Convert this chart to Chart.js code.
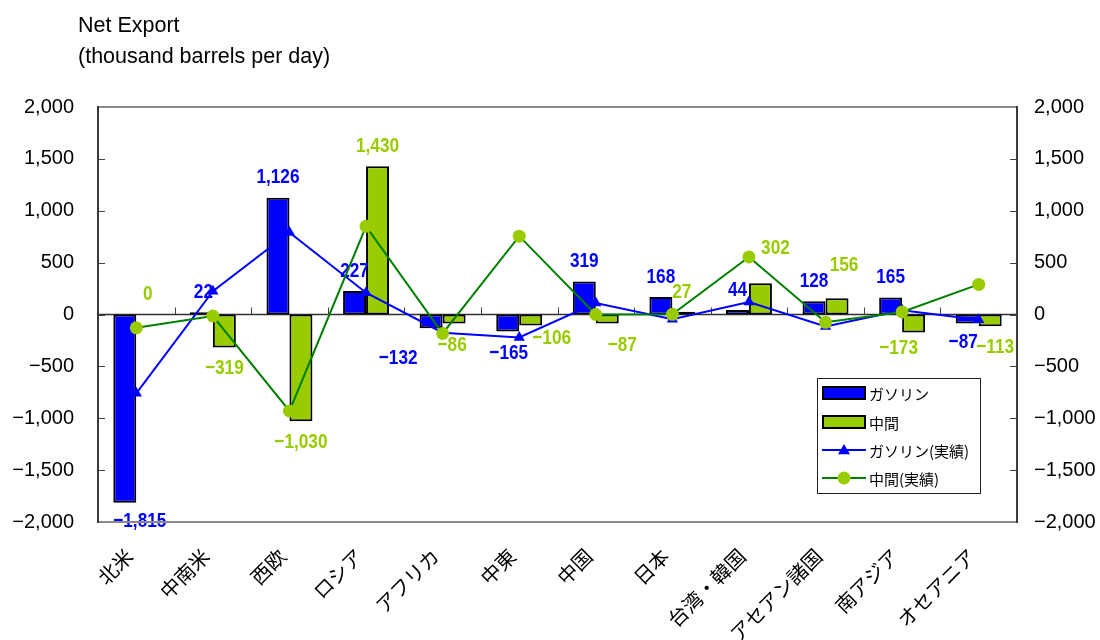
<!DOCTYPE html>
<html>
<head>
<meta charset="utf-8">
<script src="https://cdn.jsdelivr.net/npm/chart.js@4/dist/chart.umd.min.js"></script>
<style>
  html, body { margin: 0; padding: 0; background: #ffffff; }
  #wrap { width: 1100px; height: 640px; position: relative; }
</style>
</head>
<body>
<div id="wrap"><canvas id="c" width="1100" height="640"></canvas></div>
<script>
// Regions along the category axis
const regions = ['北米', '中南米', '西欧', 'ロシア', 'アフリカ', '中東', '中国', '日本', '台湾・韓国', 'アセアン諸国', '南アジア', 'オセアニア'];

// Net export, thousand barrels per day (bars)
const gasoline = [-1815, 22, 1126, 227, -132, -165, 319, 168, 44, 128, 165, -87];
const middleDistillate = [0, -319, -1030, 1430, -86, -106, -87, 27, 302, 156, -173, -113];

// Net export, actual results (lines)
const gasolineActual = [-760, 225, 790, 210, -175, -222, 110, -45, 120, -115, 40, -50];
const middleActual = [-128, -15, -930, 850, -183, 755, 0, 2, 555, -75, 25, 290];

// Value axis ticks
const axisMin = -2000;
const axisMax = 2000;
const axisStep = 500;

// Series names
const seriesNames = ['ガソリン', '中間', 'ガソリン(実績)', '中間(実績)'];
const titleLines = ['Net Export', '(thousand barrels per day)'];

// Small hand adjustments for value labels that would otherwise collide
const gasolineLabelShift = [[15, -3], [2, 0], [0, 0], [0, 0], [-33, 9], [1, 1], [0, 0], [0, 0], [0, 0], [0, 0], [0, 0], [-4, -2]];
const middleLabelShift = [[0, 0], [0, 0], [0, 0], [0, 0], [-2, 1], [21, -8], [15, 1], [-2, 1], [15, -15], [7, -13], [-15, -5], [5, 0]];

const BLUE = '#0000ff';
const YGREEN = '#99cc00';
const DGREEN = '#008000';
const SANS = '"Liberation Sans", Arial, sans-serif';
const JP = '"Noto Sans CJK JP", "Noto Sans", sans-serif';

function fmt(n) {
  const s = Math.abs(n).toLocaleString('en-US');
  return n < 0 ? '\u2212' + s : s;
}

// Frame, zero line, inward tick marks, title and legend
const framePlugin = {
  id: 'frame',
  beforeDatasetsDraw(chart) {
    const { ctx, chartArea: a, scales } = chart;
    const y = scales.y, x = scales.x;
    const y0 = y.getPixelForValue(0);
    ctx.save();
    ctx.strokeStyle = '#303030';
    ctx.lineWidth = 1.5;
    ctx.beginPath();
    ctx.moveTo(a.left, y0);
    ctx.lineTo(a.right, y0);
    ctx.stroke();
    // category separators rising from the zero line
    ctx.lineWidth = 1;
    ctx.strokeStyle = '#404040';
    const n = regions.length;
    for (let i = 1; i < n; i++) {
      const px = (x.getPixelForValue(i - 1) + x.getPixelForValue(i)) / 2;
      ctx.beginPath();
      ctx.moveTo(Math.round(px) + 0.5, y0);
      ctx.lineTo(Math.round(px) + 0.5, y0 - 7);
      ctx.stroke();
    }
    // inward tick marks on both value axes
    for (let v = axisMin; v <= axisMax; v += axisStep) {
      const py = Math.round(y.getPixelForValue(v)) + 0.5;
      ctx.beginPath();
      ctx.moveTo(a.left, py); ctx.lineTo(a.left + 7, py);
      ctx.moveTo(a.right, py); ctx.lineTo(a.right - 7, py);
      ctx.stroke();
    }
    ctx.restore();
  },
  afterDraw(chart) {
    const { ctx, chartArea: a } = chart;
    ctx.save();
    ctx.lineWidth = 2;
    ctx.strokeStyle = '#8a8a8a';
    ctx.beginPath();
    ctx.moveTo(a.left, a.top); ctx.lineTo(a.right, a.top);
    ctx.moveTo(a.left, a.bottom); ctx.lineTo(a.right, a.bottom);
    ctx.stroke();
    ctx.strokeStyle = '#3a3a3a';
    ctx.beginPath();
    ctx.moveTo(a.left, a.top - 1); ctx.lineTo(a.left, a.bottom + 1);
    ctx.moveTo(a.right, a.top - 1); ctx.lineTo(a.right, a.bottom + 1);
    ctx.stroke();

    // axis title
    ctx.fillStyle = '#000';
    ctx.font = '21.5px ' + SANS;
    ctx.textAlign = 'left';
    ctx.textBaseline = 'alphabetic';
    ctx.fillText(titleLines[0], 78, 32);
    ctx.fillText(titleLines[1], 78, 63);

    // legend
    const lx = 817, ly = 378, lw = 163, lh = 115;
    ctx.fillStyle = '#fff';
    ctx.fillRect(lx, ly, lw, lh);
    ctx.strokeStyle = '#202020';
    ctx.lineWidth = 1;
    ctx.strokeRect(lx + 0.5, ly + 0.5, lw, lh);
    const rows = [393, 422, 450, 478];
    const byName = {};
    chart.data.datasets.forEach(d => byName[d.label] = d);
    seriesNames.forEach((name, i) => {
      const d = byName[name];
      const cy = rows[i];
      if (d.type === 'line') {
        ctx.strokeStyle = d.borderColor;
        ctx.lineWidth = 2;
        ctx.beginPath();
        ctx.moveTo(822, cy); ctx.lineTo(866, cy);
        ctx.stroke();
        ctx.fillStyle = d.pointBackgroundColor;
        ctx.beginPath();
        if (d.pointStyle === 'triangle') {
          const r = 6;
          ctx.moveTo(844, cy - r);
          ctx.lineTo(844 + r, cy + r * 0.7);
          ctx.lineTo(844 - r, cy + r * 0.7);
          ctx.closePath();
        } else {
          ctx.arc(844, cy, 6.5, 0, Math.PI * 2);
        }
        ctx.fill();
      } else {
        ctx.fillStyle = d.backgroundColor;
        ctx.fillRect(823, cy - 6, 42, 12);
        ctx.strokeStyle = '#000';
        ctx.lineWidth = 2;
        ctx.strokeRect(823, cy - 6, 42, 12);
      }
      ctx.fillStyle = '#000';
      ctx.font = '15px ' + JP;
      ctx.textAlign = 'left';
      ctx.textBaseline = 'middle';
      ctx.fillText(name, 869, cy + 1);
    });
    ctx.restore();
  }
};

// Value labels for the two bar series, placed beyond the bar end
const barLabelPlugin = {
  id: 'barLabels',
  afterDatasetDraw(chart, args) {
    if (args.index !== 0) return;
    const { ctx } = chart;
    const sets = [
      { idx: 0, values: gasoline, color: BLUE, shift: gasolineLabelShift },
      { idx: 1, values: middleDistillate, color: YGREEN, shift: middleLabelShift }
    ];
    ctx.save();
    ctx.font = 'bold 21px ' + SANS;
    ctx.textAlign = 'center';
    ctx.textBaseline = 'middle';
    sets.forEach(s => {
      const meta = chart.getDatasetMeta(s.idx);
      meta.data.forEach((el, i) => {
        const v = s.values[i];
        const top = Math.min(el.y, el.base);
        const bottom = Math.max(el.y, el.base);
        const ly = (v >= 0 ? top - 20 : bottom + 21) + s.shift[i][1];
        const lx = el.x + s.shift[i][0];
        ctx.save();
        ctx.translate(lx, ly);
        ctx.scale(0.82, 1);   // narrow lettering
        ctx.fillStyle = s.color;
        ctx.fillText(fmt(v), 0, 0);
        ctx.restore();
      });
    });
    ctx.restore();
  }
};

const tickFont = { family: SANS, size: 20 };

new Chart(document.getElementById('c'), {
  data: {
    labels: regions,
    datasets: [
      {
        type: 'bar', label: seriesNames[0], data: gasoline,
        backgroundColor: BLUE, borderColor: '#000', borderWidth: 2, borderSkipped: false,
        categoryPercentage: 0.6, barPercentage: 1.0, order: 2, yAxisID: 'y'
      },
      {
        type: 'bar', label: seriesNames[1], data: middleDistillate,
        backgroundColor: YGREEN, borderColor: '#000', borderWidth: 2, borderSkipped: false,
        categoryPercentage: 0.6, barPercentage: 1.0, order: 2, yAxisID: 'y'
      },
      {
        type: 'line', label: seriesNames[2], data: gasolineActual,
        borderColor: BLUE, borderWidth: 2, pointStyle: 'triangle', pointRadius: 6.5,
        pointBackgroundColor: BLUE, pointBorderColor: BLUE, pointBorderWidth: 0,
        tension: 0, order: 1, yAxisID: 'y'
      },
      {
        type: 'line', label: seriesNames[3], data: middleActual,
        borderColor: DGREEN, borderWidth: 2, pointStyle: 'circle', pointRadius: 6.5,
        pointBackgroundColor: YGREEN, pointBorderColor: YGREEN, pointBorderWidth: 0,
        tension: 0, order: 0, yAxisID: 'y'
      }
    ]
  },
  options: {
    responsive: false,
    animation: false,
    layout: { padding: { top: 107, left: 0, right: 0, bottom: 0 } },
    plugins: { legend: { display: false }, tooltip: { enabled: false }, title: { display: false } },
    scales: {
      x: {
        type: 'category',
        offset: true,
        grid: { display: false, drawTicks: false },
        border: { display: false },
        ticks: {
          color: '#000', font: { family: JP, size: 20 },
          minRotation: 45, maxRotation: 45, padding: 22, labelOffset: -7, autoSkip: false
        },
        afterFit(scale) { scale.height = 118; }
      },
      y: {
        position: 'left',
        min: axisMin, max: axisMax,
        grid: { display: false, drawTicks: false },
        border: { display: false },
        ticks: { stepSize: axisStep, color: '#000', font: tickFont, padding: 24, callback: v => fmt(v) },
        afterFit(scale) { scale.width = 98; }
      },
      y2: {
        position: 'right',
        min: axisMin, max: axisMax,
        grid: { display: false, drawTicks: false },
        border: { display: false },
        ticks: { stepSize: axisStep, color: '#000', font: tickFont, padding: 17, callback: v => fmt(v) },
        afterFit(scale) { scale.width = 83; }
      }
    }
  },
  plugins: [framePlugin, barLabelPlugin]
});
</script>
</body>
</html>
